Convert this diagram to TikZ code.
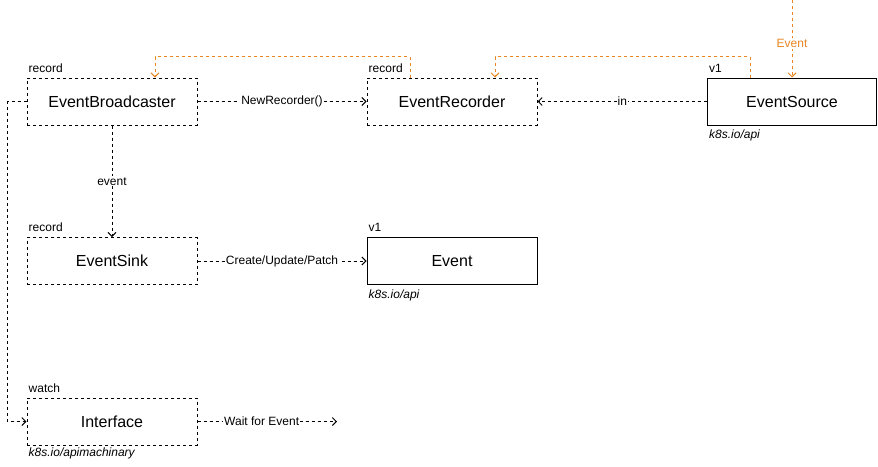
\documentclass[tikz,border=0pt]{standalone}
\usepackage{fontspec}
\setmainfont{Liberation Sans}
\usetikzlibrary{arrows.meta}
\definecolor{orng}{RGB}{232,134,34}
\begin{document}
\begin{tikzpicture}[x=1pt,y=-1pt,
  box/.style={draw, line width=1pt, minimum width=170pt, minimum height=47pt, inner sep=0pt, font=\fontsize{16}{18}\selectfont},
  dbox/.style={box, dash pattern=on 3pt off 3pt},
  small/.style={font=\fontsize{12}{14}\selectfont, inner sep=1pt},
  ital/.style={small, font=\fontsize{12}{14}\selectfont\itshape},
  darr/.style={draw, line width=1pt, dash pattern=on 3pt off 3pt, -{Straight Barb[length=4pt,width=8pt]}},
  oarr/.style={darr, draw=orng},
  lbl/.style={fill=white, font=\fontsize{12}{14}\selectfont, inner sep=1pt}
]
\useasboundingbox (0,0) rectangle (878,466);

\node[dbox] (eb) at (112,101.5) {EventBroadcaster};
\node[dbox] (er) at (452,101.5) {EventRecorder};
\node[box, minimum width=169pt] (es) at (792,101.5) {EventSource};
\node[dbox] (sink) at (112,261) {EventSink};
\node[box] (ev) at (452,261) {Event};
\node[dbox] (if) at (112,421.5) {Interface};

\node[small, anchor=south west] (l1) at ([xshift=1pt,yshift=4pt]eb.north west) {record};
\node[small, anchor=south west] (l2) at ([xshift=1pt,yshift=4pt]er.north west) {record};
\node[small, anchor=south west] (l3) at ([xshift=1pt,yshift=4pt]es.north west) {v1};
\node[ital, anchor=north west] (l4) at ([xshift=1pt,yshift=-3pt]es.south west) {k8s.io/api};
\node[small, anchor=south west] (l5) at ([xshift=1pt,yshift=4pt]sink.north west) {record};
\node[small, anchor=south west] (l6) at ([xshift=1pt,yshift=4pt]ev.north west) {v1};
\node[ital, anchor=north west] (l7) at ([xshift=1pt,yshift=-4pt]ev.south west) {k8s.io/api};
\node[small, anchor=south west] (l8) at ([xshift=1pt,yshift=4pt]if.north west) {watch};
\node[ital, anchor=north west] (l9) at ([xshift=1pt,yshift=-1pt]if.south west) {k8s.io/apimachinary};

% orange connectors
\draw[oarr] ([xshift=-42pt]er.north) -- ++(0,-21) -| ([xshift=43pt]eb.north);
\draw[oarr] ([xshift=-42pt]es.north) -- ++(0,-21) -| ([xshift=43pt]er.north);
\coordinate (top) at (792,0);
\draw[oarr] (top) -- node[lbl, text=orng, pos=0.56] {Event} (es.north);

% black connectors
\draw[darr] (eb) -- node[lbl] {NewRecorder()} (er);
\draw[darr] (es) -- node[lbl] {in} (er);
\draw[darr] (eb) -- node[lbl] {event} (sink);
\draw[darr] (sink) -- node[lbl] {Create/Update/Patch} (ev);
\draw[darr] (eb.west) -- ++(-19,0) |- (if.west);
\coordinate (wend) at (337,421.5);
\draw[darr] (if) -- node[lbl, pos=0.46] {Wait for Event} (wend);
\end{tikzpicture}
\end{document}
